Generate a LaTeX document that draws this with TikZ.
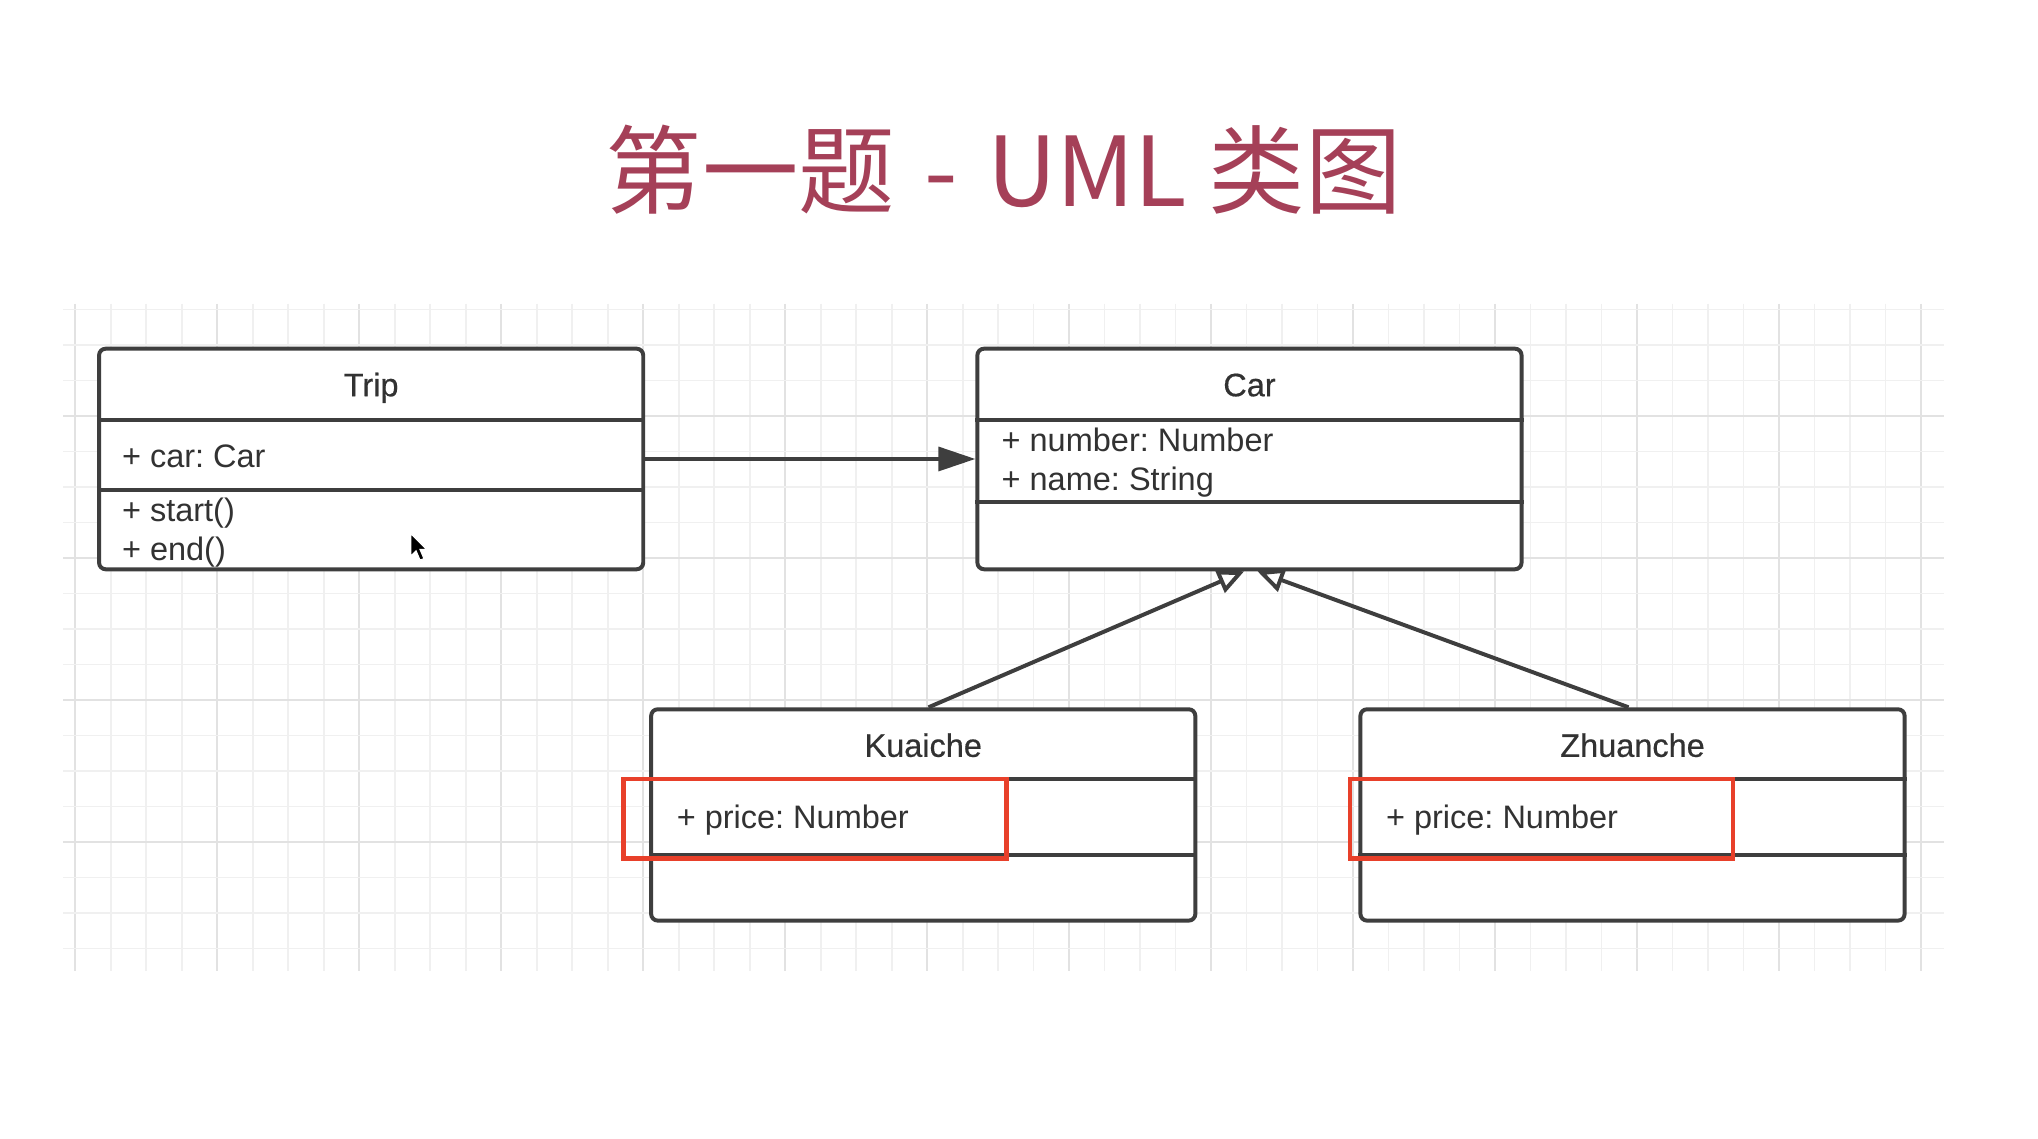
\documentclass[tikz,border=0pt]{standalone}
\usepackage{fontspec}
\setmainfont{Liberation Sans}
\newfontfamily\cjk{Noto Sans CJK SC}
\newfontfamily\hdrfont[FakeBold=0.5]{Liberation Sans}
\usetikzlibrary{arrows.meta}
\frenchspacing
\definecolor{titlec}{RGB}{165,64,88}
\definecolor{boxc}{RGB}{62,62,62}
\definecolor{txtc}{RGB}{50,50,50}
\definecolor{redc}{RGB}{232,64,42}
\definecolor{gridminor}{RGB}{240,240,240}
\definecolor{gridmajor}{RGB}{226,226,226}
\tikzset{
  umlbox/.style={draw=boxc, line width=1.5pt, rounded corners=2.5pt, fill=white, inner sep=0pt, minimum width=206pt},
  divider/.style={draw=boxc, line width=1.5pt},
  hdr/.style={anchor=base, inner sep=0pt, text=txtc, font=\hdrfont\fontsize{12.3}{15}\selectfont},
  attr/.style={anchor=base west, inner sep=0pt, text=txtc, font=\fontsize{12.3}{15}\selectfont},
  redbox/.style={draw=redc, line width=1.6pt, inner sep=0pt, minimum width=145pt, minimum height=30pt},
  assoc/.style={draw=boxc, line width=1.5pt, -{Triangle[length=14pt,width=9pt]}},
  inherit/.style={draw=boxc, line width=1.5pt, -{Triangle[open,length=10pt,width=9pt,fill=white]}},
}
\begin{document}
\begin{tikzpicture}[x=0.5pt,y=-0.5pt]
\useasboundingbox (0,0) rectangle (1543,862);
\fill[white] (0,0) rectangle (1543,862);
% grid
\foreach \k in {0,...,52}{
  \pgfmathsetmacro{\gx}{57+26.875*\k}
  \pgfmathtruncatemacro{\ismaj}{mod(\k,4)==0 ? 1 : 0}
  \ifnum\ismaj=1
    \draw[gridmajor, line width=0.7pt] (\gx,230) -- (\gx,735);
  \else
    \draw[gridminor, line width=0.6pt] (\gx,230) -- (\gx,735);
  \fi
}
\foreach \k in {-3,...,15}{
  \pgfmathsetmacro{\gy}{315+26.875*\k}
  \pgfmathtruncatemacro{\ismaj}{mod(\k+12,4)==0 ? 1 : 0}
  \ifnum\ismaj=1
    \draw[gridmajor, line width=0.7pt] (48,\gy) -- (1472,\gy);
  \else
    \draw[gridminor, line width=0.6pt] (48,\gy) -- (1472,\gy);
  \fi
}
% title
\node[anchor=base, inner sep=0pt, text=titlec, font=\cjk\fontsize{36.5}{40}\selectfont] (title) at (760,156) {第一题\hspace{0.08em} - \hspace{0.08em}UML 类图};
% boxes
\node[umlbox, minimum height=83.5pt] (trip) at (281,347.5) {};
\node[umlbox, minimum height=83.5pt] (car) at (946,347.5) {};
\node[umlbox, minimum height=80pt] (kuai) at (699,617) {};
\node[umlbox, minimum height=80pt] (zhuan) at (1236,617) {};
% dividers
\draw[divider] (trip.west |- 0,318) -- (trip.east |- 0,318);
\draw[divider] (trip.west |- 0,371) -- (trip.east |- 0,371);
\draw[divider] (car.west |- 0,318) -- (car.east |- 0,318);
\draw[divider] (car.west |- 0,380) -- (car.east |- 0,380);
\draw[divider] (kuai.west |- 0,590) -- (kuai.east |- 0,590);
\draw[divider] (kuai.west |- 0,647) -- (kuai.east |- 0,647);
\draw[divider] (zhuan.west |- 0,590) -- (zhuan.east |- 0,590);
\draw[divider] (zhuan.west |- 0,647) -- (zhuan.east |- 0,647);
% texts
\node[hdr] (tripT) at (281,300) {Trip};
\node[attr] (tripA) at (92,354) {+ car: Car};
\node[attr] (tripM1) at (92,395) {+ start()};
\node[attr] (tripM2) at (92,424) {+ end()};
\node[hdr] (carT) at (946,300) {Car};
\node[attr] (carA1) at (758,342) {+ number: Number};
\node[attr] (carA2) at (758,371) {+ name: String};
\node[hdr] (kuaiT) at (699,573) {Kuaiche};
\node[attr] (kuaiA) at (512,627) {+ price: Number};
\node[hdr] (zhuanT) at (1236,573) {Zhuanche};
\node[attr] (zhuanA) at (1049,627) {+ price: Number};
% connectors
\draw[assoc] (trip) -- (car);
\path (car.south) ++(-4,0) coordinate (carL);
\path (car.south) ++(6,0) coordinate (carR);
\path (kuai.north) ++(4,0) coordinate (kuaiTop);
\path (zhuan.north) ++(-3,0) coordinate (zhuanTop);
\draw[inherit] (kuaiTop) -- (carL);
\draw[inherit] (zhuanTop) -- (carR);
% highlight boxes
\node[redbox] (redK) at (617,620) {};
\node[redbox] (redZ) at (1167,620) {};
% mouse cursor
\filldraw[fill=black, draw=white, line width=0.4pt] (311,404) -- (311,421) -- (315,417) -- (318,424) -- (321,423) -- (318,416) -- (323,416) -- cycle;
\end{tikzpicture}
\end{document}
